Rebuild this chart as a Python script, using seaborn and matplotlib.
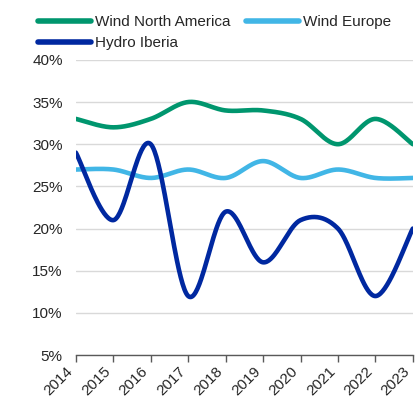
import numpy as np
import pandas as pd
import matplotlib
matplotlib.use("Agg")
import matplotlib.pyplot as plt
import seaborn as sns
from matplotlib.ticker import FuncFormatter

years = [2014, 2015, 2016, 2017, 2018, 2019, 2020, 2021, 2022, 2023]
wind_na = [33, 32, 33, 35, 34, 34, 33, 30, 33, 30]
wind_eu = [27, 27, 26, 27, 26, 28, 26, 27, 26, 26]
hydro_ib = [29, 21, 30, 12, 22, 16, 21, 20, 12, 20]
series_names = ["Wind North America", "Wind Europe", "Hydro Iberia"]
colors = ["#00966E", "#41B6E6", "#0028A0"]


def smooth(xs, ys, n=40):
    # Excel-like smoothed line (cubic Bezier with Catmull-Rom tangents / 6)
    xs = np.asarray(xs, float)
    ys = np.asarray(ys, float)
    P = np.column_stack([xs, ys])
    out = []
    m = len(P)
    for i in range(m - 1):
        p0 = P[i - 1] if i > 0 else P[i]
        p1 = P[i]
        p2 = P[i + 1]
        p3 = P[i + 2] if i + 2 < m else P[i + 1]
        c1 = p1 + (p2 - p0) / 6.0
        c2 = p2 - (p3 - p1) / 6.0
        t = np.linspace(0, 1, n, endpoint=(i == m - 2))[:, None]
        b = ((1 - t) ** 3) * p1 + 3 * ((1 - t) ** 2) * t * c1 + 3 * (1 - t) * t ** 2 * c2 + t ** 3 * p2
        out.append(b)
    out = np.vstack(out)
    return out[:, 0], out[:, 1]


frames = []
for name, vals in zip(series_names, [wind_na, wind_eu, hydro_ib]):
    sx, sy = smooth(years, vals)
    frames.append(pd.DataFrame({"year": sx, "value": sy, "series": name}))
df = pd.concat(frames, ignore_index=True)

sns.set_style("white")
plt.rcParams["font.family"] = ["Liberation Sans", "DejaVu Sans"]

fig = plt.figure(figsize=(4.17, 3.99), dpi=100)
ax = fig.add_axes([0.182, 0.110, 0.808, 0.740])

sns.lineplot(data=df, x="year", y="value", hue="series", hue_order=series_names,
             palette=colors, sort=False, estimator=None, linewidth=3.3, ax=ax,
             solid_capstyle="round")

ax.set_xlim(2014, 2023)
ax.set_ylim(5, 40)
ax.set_yticks(np.arange(5, 41, 5))
ax.yaxis.set_major_formatter(FuncFormatter(lambda v, p: f"{int(v)}%"))
ax.set_xticks(years)
ax.set_xticklabels([str(y) for y in years], rotation=45, ha="right", va="top")
ax.grid(axis="y", color="#D9D9D9", linewidth=1.0)
ax.set_axisbelow(True)
for s in ["left", "right", "top"]:
    ax.spines[s].set_visible(False)
ax.spines["bottom"].set_color("#595959")
ax.spines["bottom"].set_linewidth(1.0)
ax.tick_params(axis="x", bottom=True, length=5, width=1, color="#595959",
               labelsize=11, labelcolor="#262626", pad=1.5)
ax.tick_params(axis="y", left=False, labelsize=11, labelcolor="#262626", pad=6)
ax.set_xlabel("")
ax.set_ylabel("")

handles, labels = ax.get_legend_handles_labels()
order = [0, 2, 1]
leg = fig.legend([handles[i] for i in order], [labels[i] for i in order],
                 loc="upper left", bbox_to_anchor=(0.068, 0.985),
                 ncol=2, frameon=False, fontsize=11, handlelength=3.5,
                 handletextpad=0.25, columnspacing=1.0, labelspacing=0.45,
                 borderaxespad=0.2)
if ax.get_legend():
    ax.get_legend().remove()
for line in leg.get_lines():
    line.set_linewidth(4)
    line.set_solid_capstyle("round")

fig.savefig("out.png", dpi=100)
